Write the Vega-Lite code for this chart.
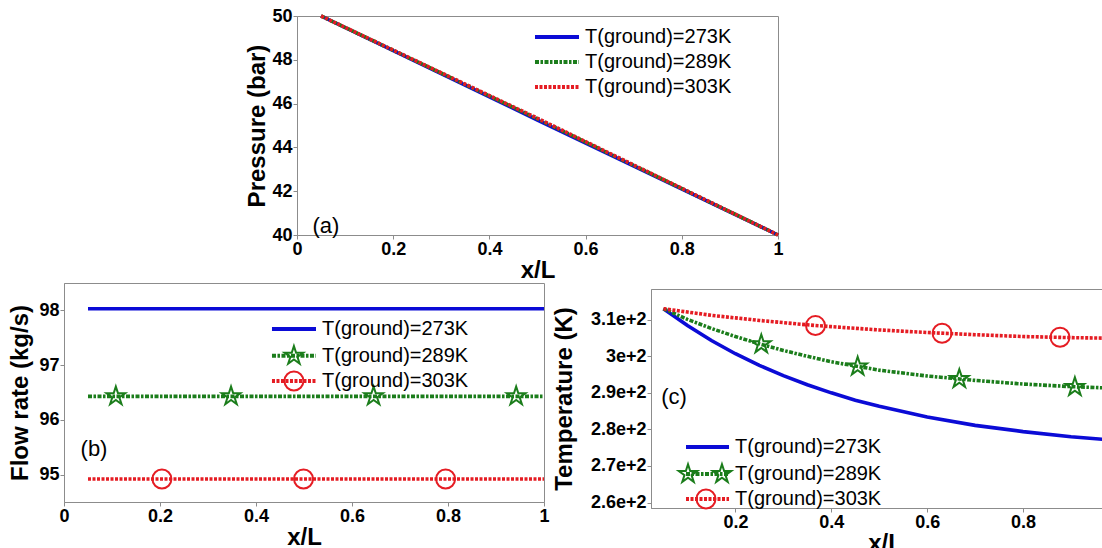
{
  "$schema": "https://vega.github.io/schema/vega-lite/v6.json",
  "background": "white",
  "padding": {"left": 8, "top": 6, "right": 0, "bottom": 0},
  "config": {
    "font": "Liberation Sans",
    "view": {"stroke": "#8c8c8c"},
    "axis": {
      "labelFont": "Liberation Sans",
      "labelFontWeight": "bold",
      "labelFontSize": 18,
      "labelColor": "#000000",
      "titleFont": "Liberation Sans",
      "titleFontWeight": "bold",
      "titleFontSize": 24,
      "titleColor": "#000000",
      "domainColor": "#8c8c8c",
      "tickColor": "#8c8c8c",
      "tickSize": 4,
      "labelPadding": 1,
      "labelFlush": false,
      "labelOverlap": false,
      "grid": false
    },
    "text": {"font": "Liberation Sans", "color": "#000000"}
  },
  "spacing": -12,
  "vconcat": [
    {
      "spacing": 0,
      "hconcat": [
        {
          "width": 181,
          "height": 219,
          "view": {"stroke": null},
          "data": {"values": [{}]},
          "mark": {"type": "text"},
          "encoding": {"text": {"value": ""}}
        },
        {
          "width": 481,
          "height": 219,
          "data": {"values": [
            {"x": 0.05, "y": 50.0, "series": "T(ground)=273K"},
            {"x": 0.5, "y": 45.25, "series": "T(ground)=273K"},
            {"x": 1.0, "y": 40.0, "series": "T(ground)=273K"},
            {"x": 0.05, "y": 50.0, "series": "T(ground)=289K"},
            {"x": 0.5, "y": 45.3, "series": "T(ground)=289K"},
            {"x": 1.0, "y": 40.0, "series": "T(ground)=289K"},
            {"x": 0.05, "y": 50.0, "series": "T(ground)=303K"},
            {"x": 0.5, "y": 45.33, "series": "T(ground)=303K"},
            {"x": 1.0, "y": 40.0, "series": "T(ground)=303K"}
          ]},
          "layer": [
            {
              "transform": [{"filter": "datum.series == 'T(ground)=273K'"}],
              "mark": {"type": "line", "strokeWidth": 3.6, "color": "#0b0bd6"},
              "encoding": {
                "x": {"field": "x", "type": "quantitative", "scale": {"domain": [0, 1], "nice": false},
                      "axis": {"values": [0, 0.2, 0.4, 0.6, 0.8, 1], "format": "~g", "title": "x/L", "titlePadding": 0}},
                "y": {"field": "y", "type": "quantitative", "scale": {"domain": [40, 50], "nice": false, "zero": false},
                      "axis": {"values": [40, 42, 44, 46, 48, 50], "format": "~g", "title": "Pressure (bar)", "titlePadding": 2}}
              }
            },
            {
              "transform": [{"filter": "datum.series == 'T(ground)=289K'"}],
              "mark": {"type": "line", "strokeWidth": 3.6, "color": "#1b7d1b", "strokeDash": [4, 1.5, 2.5, 1.5]},
              "encoding": {"x": {"field": "x", "type": "quantitative"}, "y": {"field": "y", "type": "quantitative"}}
            },
            {
              "transform": [{"filter": "datum.series == 'T(ground)=303K'"}],
              "mark": {"type": "line", "strokeWidth": 3.6, "color": "#e51c23", "strokeDash": [3, 1.5]},
              "encoding": {"x": {"field": "x", "type": "quantitative"}, "y": {"field": "y", "type": "quantitative"}}
            },
            {
              "data": {"values": [{}]},
              "mark": {"type": "text", "fontSize": 22},
              "encoding": {"x": {"datum": 0.06, "type": "quantitative"}, "y": {"datum": 40.41, "type": "quantitative"}, "text": {"value": "(a)"}}
            },
            {
              "data": {"values": [{}]},
              "mark": {"type": "rule", "strokeWidth": 4, "color": "#0b0bd6"},
              "encoding": {"x": {"datum": 0.4948, "type": "quantitative"}, "x2": {"datum": 0.5863}, "y": {"datum": 49.04, "type": "quantitative"}}
            },
            {
              "data": {"values": [{}]},
              "mark": {"type": "rule", "strokeWidth": 4, "color": "#1b7d1b", "strokeDash": [4, 1.5, 2.5, 1.5]},
              "encoding": {"x": {"datum": 0.4948, "type": "quantitative"}, "x2": {"datum": 0.5863}, "y": {"datum": 47.9, "type": "quantitative"}}
            },
            {
              "data": {"values": [{}]},
              "mark": {"type": "rule", "strokeWidth": 4, "color": "#e51c23", "strokeDash": [3, 1.5]},
              "encoding": {"x": {"datum": 0.4948, "type": "quantitative"}, "x2": {"datum": 0.5863}, "y": {"datum": 46.76, "type": "quantitative"}}
            },
            {
              "data": {"values": [{}]},
              "mark": {"type": "text", "fontSize": 20, "align": "left", "baseline": "middle"},
              "encoding": {"x": {"datum": 0.5988, "type": "quantitative"}, "y": {"datum": 49.04, "type": "quantitative"}, "text": {"value": "T(ground)=273K"}}
            },
            {
              "data": {"values": [{}]},
              "mark": {"type": "text", "fontSize": 20, "align": "left", "baseline": "middle"},
              "encoding": {"x": {"datum": 0.5988, "type": "quantitative"}, "y": {"datum": 47.9, "type": "quantitative"}, "text": {"value": "T(ground)=289K"}}
            },
            {
              "data": {"values": [{}]},
              "mark": {"type": "text", "fontSize": 20, "align": "left", "baseline": "middle"},
              "encoding": {"x": {"datum": 0.5988, "type": "quantitative"}, "y": {"datum": 46.76, "type": "quantitative"}, "text": {"value": "T(ground)=303K"}}
            }
          ]
        }
      ]
    },
    {
      "spacing": -1,
      "hconcat": [
        {
          "width": 480,
          "height": 219,
          "data": {"values": [
            {"x": 0.05, "y": 98.03, "series": "T(ground)=273K"},
            {"x": 1.0, "y": 98.03, "series": "T(ground)=273K"},
            {"x": 0.05, "y": 96.43, "series": "T(ground)=289K"},
            {"x": 1.0, "y": 96.43, "series": "T(ground)=289K"},
            {"x": 0.05, "y": 94.92, "series": "T(ground)=303K"},
            {"x": 1.0, "y": 94.92, "series": "T(ground)=303K"}
          ]},
          "layer": [
            {
              "transform": [{"filter": "datum.series == 'T(ground)=273K'"}],
              "mark": {"type": "line", "strokeWidth": 3.6, "color": "#0b0bd6"},
              "encoding": {
                "x": {"field": "x", "type": "quantitative", "scale": {"domain": [0, 1], "nice": false},
                      "axis": {"values": [0, 0.2, 0.4, 0.6, 0.8, 1], "format": "~g", "title": "x/L", "titlePadding": 0}},
                "y": {"field": "y", "type": "quantitative", "scale": {"domain": [94.5, 98.5], "nice": false, "zero": false},
                      "axis": {"values": [95, 96, 97, 98], "format": "~g", "title": "Flow rate (kg/s)", "titlePadding": 6}}
              }
            },
            {
              "transform": [{"filter": "datum.series == 'T(ground)=289K'"}],
              "mark": {"type": "line", "strokeWidth": 3.6, "color": "#1b7d1b", "strokeDash": [4, 1.5, 2.5, 1.5]},
              "encoding": {"x": {"field": "x", "type": "quantitative"}, "y": {"field": "y", "type": "quantitative"}}
            },
            {
              "transform": [{"filter": "datum.series == 'T(ground)=303K'"}],
              "mark": {"type": "line", "strokeWidth": 3.6, "color": "#e51c23", "strokeDash": [3, 1.5]},
              "encoding": {"x": {"field": "x", "type": "quantitative"}, "y": {"field": "y", "type": "quantitative"}}
            },
            {
              "data": {"values": [
                {"x": 0.108, "y": 96.43}, {"x": 0.348, "y": 96.43}, {"x": 0.645, "y": 96.43}, {"x": 0.942, "y": 96.43}
              ]},
              "mark": {"type": "point", "shape": "M0,-1L0.2245,-0.309L0.9511,-0.309L0.3633,0.118L0.5878,0.809L0,0.382L-0.5878,0.809L-0.3633,0.118L-0.9511,-0.309L-0.2245,-0.309Z", "filled": false, "color": "#1b7d1b", "size": 380, "strokeWidth": 2, "opacity": 1},
              "encoding": {"x": {"field": "x", "type": "quantitative"}, "y": {"field": "y", "type": "quantitative"}}
            },
            {
              "data": {"values": [
                {"x": 0.204, "y": 94.92}, {"x": 0.499, "y": 94.92}, {"x": 0.795, "y": 94.92}
              ]},
              "mark": {"type": "point", "shape": "circle", "filled": false, "color": "#e51c23", "size": 360, "strokeWidth": 2, "opacity": 1},
              "encoding": {"x": {"field": "x", "type": "quantitative"}, "y": {"field": "y", "type": "quantitative"}}
            },
            {
              "data": {"values": [{}]},
              "mark": {"type": "text", "fontSize": 22},
              "encoding": {"x": {"datum": 0.0625, "type": "quantitative"}, "y": {"datum": 95.47, "type": "quantitative"}, "text": {"value": "(b)"}}
            },
            {
              "data": {"values": [{}]},
              "mark": {"type": "rule", "strokeWidth": 4, "color": "#0b0bd6"},
              "encoding": {"x": {"datum": 0.4333, "type": "quantitative"}, "x2": {"datum": 0.525}, "y": {"datum": 97.66, "type": "quantitative"}}
            },
            {
              "data": {"values": [{}]},
              "mark": {"type": "rule", "strokeWidth": 4, "color": "#1b7d1b", "strokeDash": [4, 1.5, 2.5, 1.5]},
              "encoding": {"x": {"datum": 0.4333, "type": "quantitative"}, "x2": {"datum": 0.525}, "y": {"datum": 97.17, "type": "quantitative"}}
            },
            {
              "data": {"values": [{}]},
              "mark": {"type": "rule", "strokeWidth": 4, "color": "#e51c23", "strokeDash": [3, 1.5]},
              "encoding": {"x": {"datum": 0.4333, "type": "quantitative"}, "x2": {"datum": 0.525}, "y": {"datum": 96.71, "type": "quantitative"}}
            },
            {
              "data": {"values": [{}]},
              "mark": {"type": "point", "shape": "M0,-1L0.2245,-0.309L0.9511,-0.309L0.3633,0.118L0.5878,0.809L0,0.382L-0.5878,0.809L-0.3633,0.118L-0.9511,-0.309L-0.2245,-0.309Z", "filled": false, "color": "#1b7d1b", "size": 380, "strokeWidth": 2, "opacity": 1},
              "encoding": {"x": {"datum": 0.479, "type": "quantitative"}, "y": {"datum": 97.17, "type": "quantitative"}}
            },
            {
              "data": {"values": [{}]},
              "mark": {"type": "point", "shape": "circle", "filled": false, "color": "#e51c23", "size": 360, "strokeWidth": 2, "opacity": 1},
              "encoding": {"x": {"datum": 0.479, "type": "quantitative"}, "y": {"datum": 96.71, "type": "quantitative"}}
            },
            {
              "data": {"values": [{}]},
              "mark": {"type": "text", "fontSize": 20, "align": "left", "baseline": "middle"},
              "encoding": {"x": {"datum": 0.5375, "type": "quantitative"}, "y": {"datum": 97.66, "type": "quantitative"}, "text": {"value": "T(ground)=273K"}}
            },
            {
              "data": {"values": [{}]},
              "mark": {"type": "text", "fontSize": 20, "align": "left", "baseline": "middle"},
              "encoding": {"x": {"datum": 0.5375, "type": "quantitative"}, "y": {"datum": 97.17, "type": "quantitative"}, "text": {"value": "T(ground)=289K"}}
            },
            {
              "data": {"values": [{}]},
              "mark": {"type": "text", "fontSize": 20, "align": "left", "baseline": "middle"},
              "encoding": {"x": {"datum": 0.5375, "type": "quantitative"}, "y": {"datum": 96.71, "type": "quantitative"}, "text": {"value": "T(ground)=303K"}}
            }
          ]
        },
        {
          "spacing": -2,
          "vconcat": [
            {
              "width": 10,
              "height": 1,
              "view": {"stroke": null},
              "data": {"values": [{}]},
              "mark": {"type": "text"},
              "encoding": {"text": {"value": ""}}
            },
            {
              "width": 468,
              "height": 219,
              "data": {"values": [
                {"x": 0.05, "y": 313.0, "series": "T(ground)=273K"},
                {"x": 0.1, "y": 308.4, "series": "T(ground)=273K"},
                {"x": 0.15, "y": 304.3, "series": "T(ground)=273K"},
                {"x": 0.2, "y": 300.7, "series": "T(ground)=273K"},
                {"x": 0.25, "y": 297.5, "series": "T(ground)=273K"},
                {"x": 0.3, "y": 294.7, "series": "T(ground)=273K"},
                {"x": 0.35, "y": 292.2, "series": "T(ground)=273K"},
                {"x": 0.4, "y": 290.0, "series": "T(ground)=273K"},
                {"x": 0.45, "y": 288.0, "series": "T(ground)=273K"},
                {"x": 0.5, "y": 286.3, "series": "T(ground)=273K"},
                {"x": 0.6, "y": 283.4, "series": "T(ground)=273K"},
                {"x": 0.7, "y": 281.1, "series": "T(ground)=273K"},
                {"x": 0.8, "y": 279.4, "series": "T(ground)=273K"},
                {"x": 0.9, "y": 278.0, "series": "T(ground)=273K"},
                {"x": 1.0, "y": 276.9, "series": "T(ground)=273K"},
                {"x": 0.05, "y": 313.0, "series": "T(ground)=289K"},
                {"x": 0.1, "y": 310.1, "series": "T(ground)=289K"},
                {"x": 0.15, "y": 307.6, "series": "T(ground)=289K"},
                {"x": 0.2, "y": 305.4, "series": "T(ground)=289K"},
                {"x": 0.25, "y": 303.4, "series": "T(ground)=289K"},
                {"x": 0.3, "y": 301.6, "series": "T(ground)=289K"},
                {"x": 0.35, "y": 300.0, "series": "T(ground)=289K"},
                {"x": 0.4, "y": 298.5, "series": "T(ground)=289K"},
                {"x": 0.5, "y": 296.2, "series": "T(ground)=289K"},
                {"x": 0.6, "y": 294.6, "series": "T(ground)=289K"},
                {"x": 0.7, "y": 293.4, "series": "T(ground)=289K"},
                {"x": 0.8, "y": 292.4, "series": "T(ground)=289K"},
                {"x": 0.9, "y": 291.7, "series": "T(ground)=289K"},
                {"x": 1.0, "y": 291.2, "series": "T(ground)=289K"},
                {"x": 0.05, "y": 313.0, "series": "T(ground)=303K"},
                {"x": 0.1, "y": 312.1, "series": "T(ground)=303K"},
                {"x": 0.15, "y": 311.2, "series": "T(ground)=303K"},
                {"x": 0.2, "y": 310.5, "series": "T(ground)=303K"},
                {"x": 0.25, "y": 309.8, "series": "T(ground)=303K"},
                {"x": 0.3, "y": 309.2, "series": "T(ground)=303K"},
                {"x": 0.35, "y": 308.6, "series": "T(ground)=303K"},
                {"x": 0.4, "y": 308.1, "series": "T(ground)=303K"},
                {"x": 0.5, "y": 307.2, "series": "T(ground)=303K"},
                {"x": 0.6, "y": 306.5, "series": "T(ground)=303K"},
                {"x": 0.7, "y": 305.9, "series": "T(ground)=303K"},
                {"x": 0.8, "y": 305.4, "series": "T(ground)=303K"},
                {"x": 0.9, "y": 305.1, "series": "T(ground)=303K"},
                {"x": 1.0, "y": 304.9, "series": "T(ground)=303K"}
              ]},
              "layer": [
                {
                  "transform": [{"filter": "datum.series == 'T(ground)=273K'"}],
                  "mark": {"type": "line", "strokeWidth": 3.6, "color": "#0b0bd6"},
                  "encoding": {
                    "x": {"field": "x", "type": "quantitative", "scale": {"domain": [0.024, 1], "nice": false, "zero": false},
                          "axis": {"values": [0.2, 0.4, 0.6, 0.8, 1], "format": "~g", "title": "x/L", "titlePadding": 0}},
                    "y": {"field": "y", "type": "quantitative", "scale": {"domain": [258.5, 318.4], "nice": false, "zero": false},
                          "axis": {"values": [260, 270, 280, 290, 300, 310], "format": "~g", "title": "Temperature (K)", "titlePadding": 14}}
                  }
                },
                {
                  "transform": [{"filter": "datum.series == 'T(ground)=289K'"}],
                  "mark": {"type": "line", "strokeWidth": 3.6, "color": "#1b7d1b", "strokeDash": [4, 1.5, 2.5, 1.5]},
                  "encoding": {"x": {"field": "x", "type": "quantitative"}, "y": {"field": "y", "type": "quantitative"}}
                },
                {
                  "transform": [{"filter": "datum.series == 'T(ground)=303K'"}],
                  "mark": {"type": "line", "strokeWidth": 3.6, "color": "#e51c23", "strokeDash": [3, 1.5]},
                  "encoding": {"x": {"field": "x", "type": "quantitative"}, "y": {"field": "y", "type": "quantitative"}}
                },
                {
                  "data": {"values": [
                    {"x": 0.254, "y": 303.3}, {"x": 0.455, "y": 297.2}, {"x": 0.667, "y": 293.8}, {"x": 0.908, "y": 291.6}
                  ]},
                  "mark": {"type": "point", "shape": "M0,-1L0.2245,-0.309L0.9511,-0.309L0.3633,0.118L0.5878,0.809L0,0.382L-0.5878,0.809L-0.3633,0.118L-0.9511,-0.309L-0.2245,-0.309Z", "filled": false, "color": "#1b7d1b", "size": 380, "strokeWidth": 2, "opacity": 1},
                  "encoding": {"x": {"field": "x", "type": "quantitative"}, "y": {"field": "y", "type": "quantitative"}}
                },
                {
                  "data": {"values": [
                    {"x": 0.367, "y": 308.4}, {"x": 0.631, "y": 306.3}, {"x": 0.877, "y": 305.2}
                  ]},
                  "mark": {"type": "point", "shape": "circle", "filled": false, "color": "#e51c23", "size": 360, "strokeWidth": 2, "opacity": 1},
                  "encoding": {"x": {"field": "x", "type": "quantitative"}, "y": {"field": "y", "type": "quantitative"}}
                },
                {
                  "data": {"values": [{}]},
                  "mark": {"type": "text", "fontSize": 22},
                  "encoding": {"x": {"datum": 0.072, "type": "quantitative"}, "y": {"datum": 288.9, "type": "quantitative"}, "text": {"value": "(c)"}}
                },
                {
                  "data": {"values": [{}]},
                  "mark": {"type": "rule", "strokeWidth": 4, "color": "#0b0bd6"},
                  "encoding": {"x": {"datum": 0.097, "type": "quantitative"}, "x2": {"datum": 0.1867}, "y": {"datum": 275.18, "type": "quantitative"}}
                },
                {
                  "data": {"values": [{}]},
                  "mark": {"type": "rule", "strokeWidth": 4, "color": "#1b7d1b", "strokeDash": [4, 1.5, 2.5, 1.5]},
                  "encoding": {"x": {"datum": 0.097, "type": "quantitative"}, "x2": {"datum": 0.1867}, "y": {"datum": 267.8, "type": "quantitative"}}
                },
                {
                  "data": {"values": [{}]},
                  "mark": {"type": "rule", "strokeWidth": 4, "color": "#e51c23", "strokeDash": [3, 1.5]},
                  "encoding": {"x": {"datum": 0.097, "type": "quantitative"}, "x2": {"datum": 0.1867}, "y": {"datum": 260.96, "type": "quantitative"}}
                },
                {
                  "data": {"values": [{}]},
                  "mark": {"type": "point", "shape": "M0,-1L0.2245,-0.309L0.9511,-0.309L0.3633,0.118L0.5878,0.809L0,0.382L-0.5878,0.809L-0.3633,0.118L-0.9511,-0.309L-0.2245,-0.309Z", "filled": false, "color": "#1b7d1b", "size": 380, "strokeWidth": 2, "opacity": 1},
                  "encoding": {"x": {"datum": 0.1012, "type": "quantitative"}, "y": {"datum": 267.8, "type": "quantitative"}}
                },
                {
                  "data": {"values": [{}]},
                  "mark": {"type": "point", "shape": "M0,-1L0.2245,-0.309L0.9511,-0.309L0.3633,0.118L0.5878,0.809L0,0.382L-0.5878,0.809L-0.3633,0.118L-0.9511,-0.309L-0.2245,-0.309Z", "filled": false, "color": "#1b7d1b", "size": 380, "strokeWidth": 2, "opacity": 1},
                  "encoding": {"x": {"datum": 0.172, "type": "quantitative"}, "y": {"datum": 267.8, "type": "quantitative"}}
                },
                {
                  "data": {"values": [{}]},
                  "mark": {"type": "point", "shape": "circle", "filled": false, "color": "#e51c23", "size": 360, "strokeWidth": 2, "opacity": 1},
                  "encoding": {"x": {"datum": 0.1387, "type": "quantitative"}, "y": {"datum": 260.96, "type": "quantitative"}}
                },
                {
                  "data": {"values": [{}]},
                  "mark": {"type": "text", "fontSize": 20, "align": "left", "baseline": "middle"},
                  "encoding": {"x": {"datum": 0.1992, "type": "quantitative"}, "y": {"datum": 275.18, "type": "quantitative"}, "text": {"value": "T(ground)=273K"}}
                },
                {
                  "data": {"values": [{}]},
                  "mark": {"type": "text", "fontSize": 20, "align": "left", "baseline": "middle"},
                  "encoding": {"x": {"datum": 0.1992, "type": "quantitative"}, "y": {"datum": 267.8, "type": "quantitative"}, "text": {"value": "T(ground)=289K"}}
                },
                {
                  "data": {"values": [{}]},
                  "mark": {"type": "text", "fontSize": 20, "align": "left", "baseline": "middle"},
                  "encoding": {"x": {"datum": 0.1992, "type": "quantitative"}, "y": {"datum": 260.96, "type": "quantitative"}, "text": {"value": "T(ground)=303K"}}
                }
              ]
            }
          ]
        }
      ]
    }
  ]
}
